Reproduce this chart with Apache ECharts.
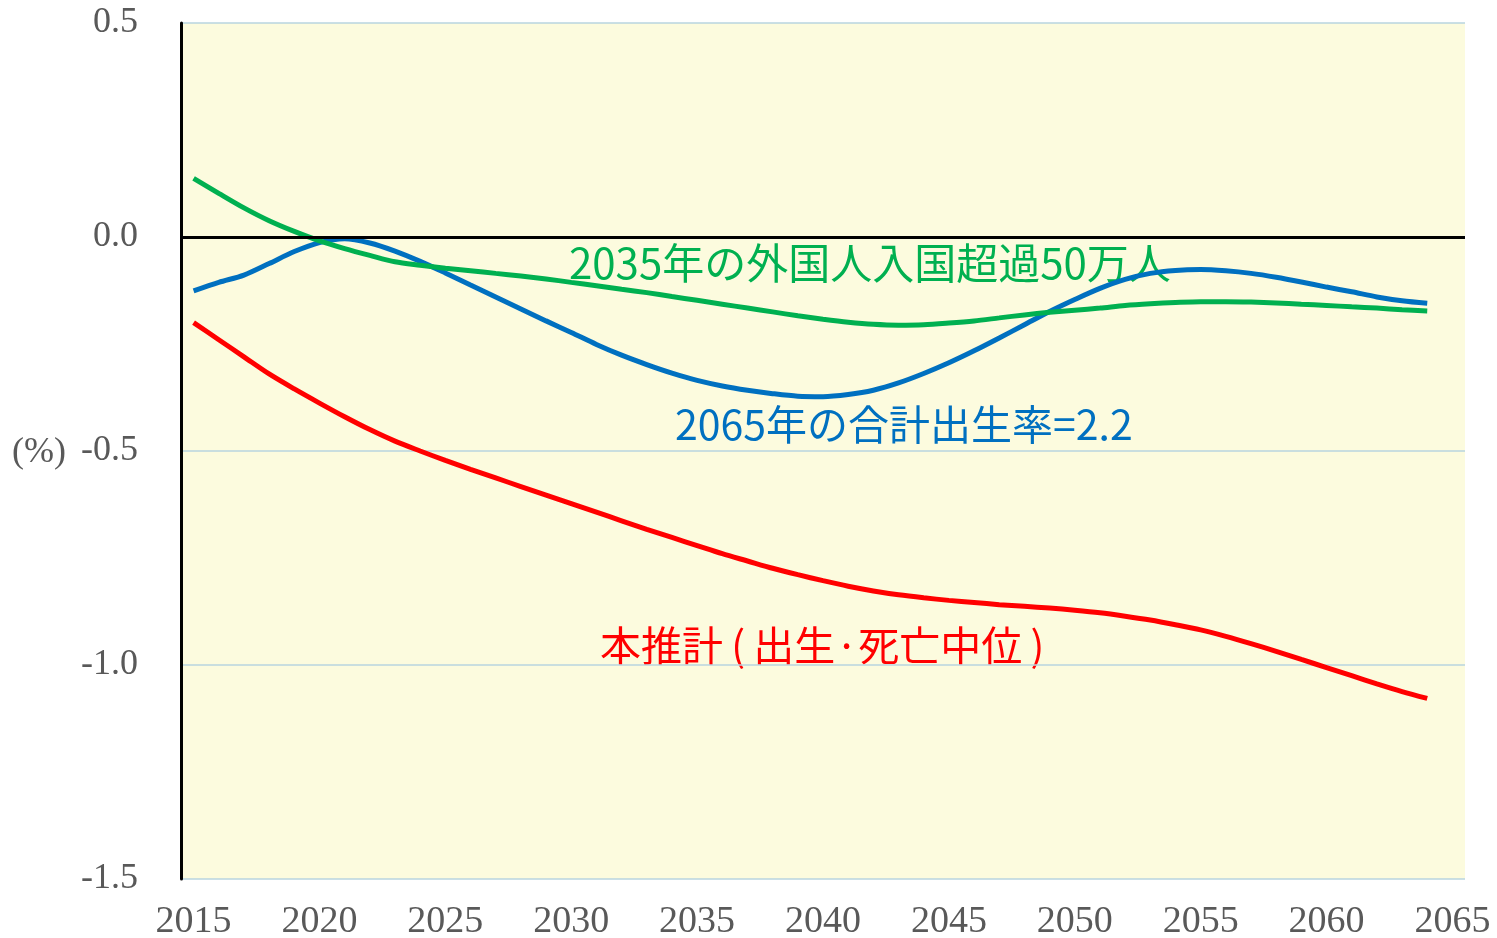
<!DOCTYPE html>
<html>
<head>
<meta charset="UTF-8">
<title>人口増減率</title>
<script src="https://cdn.jsdelivr.net/npm/echarts@6/dist/echarts.min.js"></script>
<style>
  html, body { margin: 0; padding: 0; background: #fff; }
  #main { width: 1497px; height: 938px; }
</style>
</head>
<body>
<div id="main"></div>
<script type="text/javascript">
// years 2015 .. 2065 (data stops at 2064)
var years = [];
for (var y = 2015; y <= 2065; y++) years.push(String(y));

// 本推計(出生·死亡中位)
var baseCase = [
  -0.200, -0.240, -0.280, -0.320, -0.355, -0.388, -0.420, -0.450, -0.477, -0.500,
  -0.522, -0.543, -0.563, -0.583, -0.603, -0.623, -0.643, -0.663, -0.683, -0.702,
  -0.721, -0.740, -0.757, -0.774, -0.789, -0.803, -0.816, -0.827, -0.836, -0.843,
  -0.849, -0.854, -0.859, -0.863, -0.867, -0.872, -0.878, -0.886, -0.895, -0.906,
  -0.918, -0.933, -0.950, -0.968, -0.987, -1.006, -1.025, -1.044, -1.062, -1.078
];

// 2035年の外国人入国超過50万人
var migration = [
   0.137,  0.102,  0.068,  0.038,  0.013, -0.009, -0.027, -0.043, -0.058, -0.066,
  -0.073, -0.079, -0.085, -0.091, -0.098, -0.106, -0.114, -0.122, -0.130, -0.139,
  -0.148, -0.157, -0.166, -0.175, -0.184, -0.192, -0.199, -0.204, -0.206, -0.205,
  -0.201, -0.196, -0.189, -0.182, -0.176, -0.171, -0.166, -0.160, -0.156, -0.153,
  -0.151, -0.151, -0.152, -0.154, -0.157, -0.160, -0.163, -0.166, -0.170, -0.173
];

// 2065年の合計出生率=2.2
var fertility = [
  -0.126, -0.106, -0.089, -0.062, -0.034, -0.013, -0.004, -0.014, -0.033, -0.057,
  -0.084, -0.112, -0.140, -0.168, -0.196, -0.223, -0.251, -0.276, -0.298, -0.318,
  -0.335, -0.348, -0.358, -0.366, -0.372, -0.373, -0.368, -0.358, -0.341, -0.319,
  -0.294, -0.266, -0.236, -0.205, -0.174, -0.146, -0.120, -0.099, -0.085, -0.078,
  -0.076, -0.079, -0.085, -0.094, -0.105, -0.117, -0.128, -0.140, -0.149, -0.155
];

var axisFont = 'Liberation Serif, Times New Roman, serif';
var jpFont = 'Noto Sans CJK JP, sans-serif';

var myChart = echarts.init(document.getElementById('main'));

var option = {
  backgroundColor: '#ffffff',
  animation: false,
  grid: {
    left: 181, right: 32, top: 23, bottom: 59,
    outerBoundsMode: 'none',
    containLabel: false,
    show: true,
    backgroundColor: '#FCFBDE',
    borderWidth: 0
  },
  xAxis: {
    type: 'category',
    data: years,
    boundaryGap: true,
    axisLine: { show: false },
    axisTick: { show: false },
    axisLabel: {
      interval: 4,
      margin: 24,
      color: '#595959',
      fontFamily: axisFont,
      fontSize: 38
    },
    splitLine: { show: false }
  },
  yAxis: {
    type: 'value',
    min: -1.5, max: 0.5, interval: 0.5,
    axisLine: { show: true, lineStyle: { color: '#000', width: 3 } },
    axisTick: { show: false },
    axisLabel: {
      margin: 43,
      color: '#595959',
      fontFamily: axisFont,
      fontSize: 36,
      formatter: function (v) { return v.toFixed(1); }
    },
    splitLine: { show: true, lineStyle: { color: '#B9D4DF', width: 1.5 } }
  },
  graphic: [
    { type: 'text', left: 12, top: 435,
      style: { text: '(%)', fill: '#595959', font: '36px ' + axisFont } },
    { type: 'text', left: 569, top: 242,
      style: { text: '2035年の外国人入国超過50万人', fill: '#00B050', font: '42px ' + jpFont } },
    { type: 'text', left: 675, top: 404,
      style: { text: '2065年の合計出生率=2.2', fill: '#0070C0', font: '41px ' + jpFont } },
    { type: 'text', left: 600, top: 625,
      style: { text: '本推計\u2009(\u2009出生·死亡中位\u2009)', fill: '#FF0000', font: '41px ' + jpFont } }
  ],
  series: [
    {
      name: '本推計(出生·死亡中位)',
      type: 'line',
      data: baseCase,
      symbol: 'none',
      smooth: 0.3,
      lineStyle: { color: '#FF0000', width: 5 },
      markLine: {
        silent: true,
        symbol: 'none',
        label: { show: false },
        lineStyle: { color: '#000', width: 3, type: 'solid' },
        data: [{ yAxis: 0 }]
      }
    },
    {
      name: '2065年の合計出生率=2.2',
      type: 'line',
      data: fertility,
      symbol: 'none',
      smooth: 0.3,
      lineStyle: { color: '#0070C0', width: 5 }
    },
    {
      name: '2035年の外国人入国超過50万人',
      type: 'line',
      data: migration,
      symbol: 'none',
      smooth: 0.3,
      lineStyle: { color: '#00B050', width: 5 }
    }
  ]
};

myChart.setOption(option);
</script>
</body>
</html>
